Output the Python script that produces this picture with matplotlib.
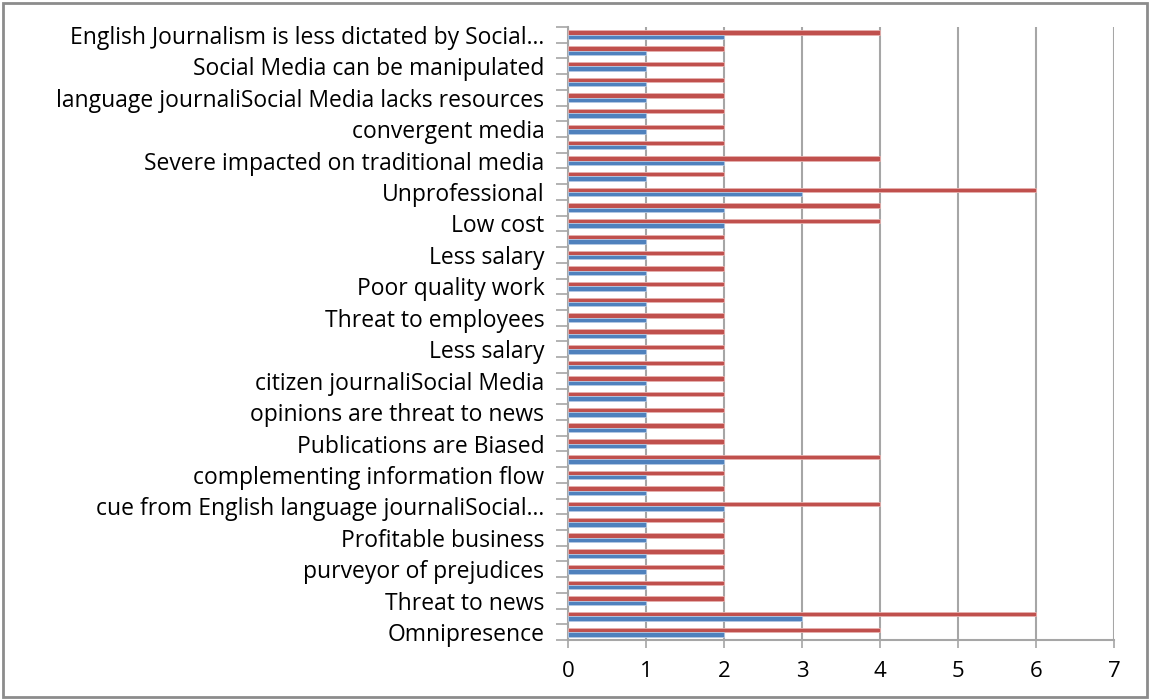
import numpy as np
import matplotlib.pyplot as plt
from matplotlib.patches import Rectangle

# category labels shown on the axis (every second category, top to bottom)
labels = ["English Journalism is less dictated by Social...",
          "Social Media can be manipulated",
          "language journaliSocial Media lacks resources",
          "convergent media",
          "Severe impacted on traditional media",
          "Unprofessional",
          "Low cost",
          "Less salary",
          "Poor quality work",
          "Threat to employees",
          "Less salary",
          "citizen journaliSocial Media",
          "opinions are threat to news",
          "Publications are Biased",
          "complementing information flow",
          "cue from English language journaliSocial...",
          "Profitable business",
          "purveyor of prejudices",
          "Threat to news",
          "Omnipresence"]

# values per category, top to bottom
blue_vals = [2, 1, 1, 1, 1, 1, 1, 1, 2, 1,
             3, 2, 2, 1, 1, 1, 1, 1, 1, 1,
             1, 1, 1, 1, 1, 1, 1, 2, 1, 1,
             2, 1, 1, 1, 1, 1, 1, 3, 2]
red_vals = [4, 2, 2, 2, 2, 2, 2, 2, 4, 2,
            6, 4, 4, 2, 2, 2, 2, 2, 2, 2,
            2, 2, 2, 2, 2, 2, 2, 4, 2, 2,
            4, 2, 2, 2, 2, 2, 2, 6, 4]

BLUE = "#4F81BD"
RED = "#C0504D"
GRID = "#A6A6A6"

plt.rcParams['font.family'] = ['Open Sans', 'DejaVu Sans']

fig = plt.figure(figsize=(11.5, 7), dpi=100)
ax = fig.add_axes([0.4939, 0.0857, 0.4748, 0.8757])

n = len(blue_vals)
y = np.arange(n)
h = 0.28

ax.barh(y - h / 2, red_vals, height=h, color=RED, edgecolor="#E6B0AE", linewidth=0.6, zorder=3)
ax.barh(y + h / 2, blue_vals, height=h, color=BLUE, edgecolor="#B4C8E2", linewidth=0.6, zorder=3)

ax.set_ylim(n - 0.5, -0.5)
ax.set_xlim(0, 7)

ax.set_xticks(range(8))
ax.tick_params(axis='x', length=6, width=1.2, color=GRID, labelsize=16, pad=9, labelcolor="#000000")

# boundaries get tick marks, every second category gets a label
ax.set_yticks(np.arange(-0.5, n, 1.0))
ax.set_yticklabels([])
ax.tick_params(axis='y', length=9, width=1.2, color=GRID)
ax.set_yticks(y[::2], minor=True)
ax.set_yticklabels(labels, minor=True)
ax.tick_params(axis='y', which='minor', length=0, pad=17, labelsize=16.5, labelcolor="#000000")

ax.grid(axis='x', color=GRID, linewidth=1.5, zorder=0)
for s in ['top', 'right']:
    ax.spines[s].set_visible(False)
for s in ['left', 'bottom']:
    ax.spines[s].set_color(GRID)
    ax.spines[s].set_linewidth(1.5)

fig.patches.append(Rectangle((0.003, 0.004), 0.994, 0.992, transform=fig.transFigure,
                             fill=False, edgecolor="#8C8C8C", linewidth=2))

fig.savefig("out.png", dpi=100)
